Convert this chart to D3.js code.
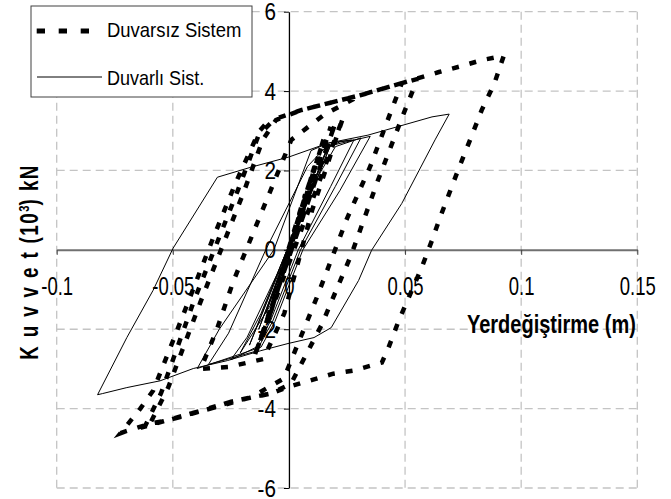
<!DOCTYPE html>
<html><head><meta charset="utf-8">
<script src="https://cdn.jsdelivr.net/npm/d3@7"></script>
<style>body{margin:0;background:#fff}svg{display:block}text{font-family:"Liberation Sans",Arial,sans-serif}</style>
</head><body><svg id="c" width="671" height="499"></svg>
<script>
const xTicks=[-0.1,-0.05,0,0.05,0.1,0.15];
const xTickLabels=["-0.1","-0.05","0","0.05","0.1","0.15"];
const yTicks=[-6,-4,-2,0,2,4,6];
const yTickLabels=["-6","-4","-2","0","2","4","6"];
const seriesNames=["Duvarsız Sistem","Duvarlı Sist."];
const xTitle="Yerdeğiştirme (m)";

// Duvarsız Sistem (dashed) : [displacement m, force 10^3 kN]
const duvarsiz=[
[0,0],
[0.007,1.4],[-0.006,-1.1],
[0.011,2.1],[-0.009,-1.8],
[0.015,2.8],[-0.012,-2.3],
[0.018,3.1],[-0.014,-2.55],
[0.020,3.2],[-0.015,-2.7],
[0.0234,3.35],[0.010,1.0],[-0.002,-1.6],[-0.011,-2.75],[-0.026,-2.95],[-0.038,-3.0],
[-0.031,-2.0],[-0.024,-0.8],[-0.010,1.2],[0.001,2.77],[0.015,3.4],
[0.031,3.9],[0.0486,4.2],
[0.0442,3.53],[0.035,2.1],[0.025,0.79],[0.012,-1.2],[-0.0022,-3.24],
[-0.0165,-3.72],[-0.0338,-4.0],[-0.0512,-4.28],[-0.060,-4.40],
[-0.052,-3.47],[-0.0382,-1.33],[-0.0195,1.45],[-0.0113,2.77],[-0.0056,3.27],
[0.0052,3.52],[0.031,3.9],[0.0486,4.2],[0.055,4.3],
[0.0538,4.08],[0.0486,3.32],[0.038,1.7],[0.027,-0.1],[0.014,-1.9],[0.0009,-3.37],
[-0.0078,-3.62],[-0.0252,-3.83],[-0.0425,-4.13],[-0.062,-4.45],
[-0.055,-3.6],[-0.041,-1.3],[-0.022,1.5],[-0.013,2.9],[-0.006,3.3],
[0.0052,3.52],[0.031,3.9],[0.0486,4.2],[0.0646,4.48],[0.0737,4.62],[0.083,4.78],[0.0925,4.89],
[0.0885,4.2],[0.083,3.52],[0.078,2.77],[0.0733,2.08],[0.069,1.42],[0.0646,0.74],[0.0616,0.24],[0.0572,-0.44],[0.0516,-1.2],[0.0473,-1.78],[0.0429,-2.46],[0.040,-2.84],
[0.0369,-2.89],[0.0278,-3.04],[0.0191,-3.12],[0.0104,-3.27],[0,-3.45],
[-0.0078,-3.62],[-0.0165,-3.72],[-0.0252,-3.83],[-0.0338,-4.0],[-0.0425,-4.13],[-0.0512,-4.28],[-0.0598,-4.38],[-0.0707,-4.58],[-0.0725,-4.62],
[-0.064,-4.0],[-0.0585,-3.55],[-0.0499,-2.29],[-0.0325,0.32],[-0.023,1.68],[-0.013,2.97],[-0.0078,3.32]
];

// Duvarlı Sist. (solid)
const duvarli=[
[0,0],
[0.005,0.8],[-0.004,-0.6],
[0.008,1.3],[-0.007,-1.1],
[0.011,1.8],[-0.010,-1.6],
[0.014,2.2],[-0.013,-2.0],
[0.016,2.5],[-0.017,-2.4],
[0.018,2.65],[0.006,0.9],[-0.008,-1.4],[-0.021,-2.6],
[-0.012,-1.6],[0.002,0.4],[0.017,2.6],[0.022,2.72],[0.028,2.77],
[0.018,1.6],[0.004,0.0],[-0.008,-1.8],[-0.014,-2.45],[-0.025,-2.77],
[-0.018,-2.2],[-0.005,-0.6],[0.012,1.8],[0.020,2.6],[0.031,2.82],
[0.020,1.6],[0.005,0.0],[-0.007,-1.8],[-0.014,-2.55],[-0.0347,-2.89],
[-0.026,-2.1],[-0.010,0.0],[0.008,2.1],[0.016,2.6],[0.035,2.86],
[0.022,1.5],[0.006,0.0],[-0.006,-1.8],[-0.012,-2.45],[-0.0395,-2.99],
[-0.030,-2.0],[-0.0065,0.0],[0.0095,2.5],[0.0169,2.69],[0.034,2.89],[0.0616,3.35],[0.069,3.42],
[0.0629,2.77],[0.0486,1.17],[0.0356,-0.01],[0.03,-0.77],[0.0182,-1.96],[0.0108,-2.21],[-0.0004,-2.36],
[-0.0121,-2.54],[-0.0265,-2.79],[-0.0412,-2.99],[-0.0555,-3.3],[-0.0698,-3.47],[-0.0802,-3.62],[-0.0824,-3.65],
[-0.0698,-2.21],[-0.0585,-1.02],[-0.0499,0.04],[-0.0308,1.83],[-0.0165,2.08],[0,2.34],[0.0169,2.69],[0.027,2.77]
];

const svg=d3.select("#c");
svg.append("rect").attr("width",671).attr("height",499).attr("fill","#fff");
const x=d3.scaleLinear().domain([-0.1,0.15]).range([56.7,637.3]);
const y=d3.scaleLinear().domain([-6,6]).range([488,11.7]);

// grid
const grid=svg.append("g").attr("stroke","#c4c4c4").attr("stroke-width",1.3).attr("stroke-dasharray","8,5");
grid.selectAll("line.gv").data(xTicks.filter(d=>d!==0)).join("line").attr("class","gv")
  .attr("x1",d=>x(d)).attr("x2",d=>x(d)).attr("y1",y(6)).attr("y2",y(-6));
grid.selectAll("line.gh").data(yTicks.filter(d=>d!==0)).join("line").attr("class","gh")
  .attr("y1",d=>y(d)).attr("y2",d=>y(d)).attr("x1",x(-0.1)).attr("x2",x(0.15));

// x axis
const xAxis=svg.append("g").attr("transform",`translate(0,${y(0)})`)
  .call(d3.axisBottom(x).tickValues(xTicks).tickFormat((d,i)=>xTickLabels[i]).tickSize(5).tickSizeOuter(0));
xAxis.attr("font-family",null).attr("font-size",null);
xAxis.select(".domain").attr("stroke","#707070").attr("stroke-width",2);
xAxis.selectAll(".tick line").attr("stroke","#404040");
xAxis.selectAll(".tick text").attr("y",0).attr("dy",0).attr("fill","#000")
  .style("font-size","25px").attr("transform","translate(0,45.5) scale(0.74,1)");

// y axis
const yAxis=svg.append("g").attr("transform",`translate(${x(0)},0)`)
  .call(d3.axisLeft(y).tickValues(yTicks).tickFormat((d,i)=>yTickLabels[i]).tickSize(5).tickSizeOuter(0));
yAxis.attr("font-family",null).attr("font-size",null);
yAxis.select(".domain").attr("stroke","#000").attr("stroke-width",1.3);
yAxis.selectAll(".tick line").attr("stroke","#000");
yAxis.selectAll(".tick text").attr("x",0).attr("dy",0).attr("fill","#000").attr("text-anchor","end")
  .style("font-size","23px").attr("transform","translate(-13,8) scale(0.9,1)");

// series
const line=d3.line().x(d=>x(d[0])).y(d=>y(d[1]));
svg.append("path").datum(duvarsiz).attr("d",line).attr("fill","none").attr("stroke","#000")
  .attr("stroke-width",4.5).attr("stroke-dasharray","7,11");
svg.append("path").datum(duvarli).attr("d",line).attr("fill","none").attr("stroke","#000").attr("stroke-width",1);

// axis titles
svg.append("text").attr("transform","translate(467,333) scale(0.8,1)")
  .style("font-size","25px").style("font-weight","bold").text(xTitle);
const yt=svg.append("text").attr("transform","translate(38,262) rotate(-90) scale(0.75,1)")
  .attr("text-anchor","middle").style("font-size","25px").style("font-weight","bold");
yt.append("tspan").attr("letter-spacing","12").text("Kuvvet");
yt.append("tspan").attr("letter-spacing","2").text("(10");
yt.append("tspan").attr("dy",-9).style("font-size","15px").text("3");
yt.append("tspan").attr("dy",9).attr("letter-spacing","2").text(") kN");

// legend
const lg=svg.append("g");
lg.append("rect").attr("x",31).attr("y",6).attr("width",221).attr("height",91)
  .attr("fill","#fff").attr("stroke","#404040").attr("stroke-width",1);
lg.append("line").attr("x1",36.7).attr("x2",102).attr("y1",31).attr("y2",31)
  .attr("stroke","#000").attr("stroke-width",5).attr("stroke-dasharray","8.3,13.7");
lg.append("line").attr("x1",37).attr("x2",102).attr("y1",77).attr("y2",77)
  .attr("stroke","#000").attr("stroke-width",1);
lg.append("text").attr("transform","translate(107,37.3) scale(0.9,1)").style("font-size","20.5px").text(seriesNames[0]);
lg.append("text").attr("transform","translate(107,85) scale(0.88,1)").style("font-size","20.5px").text(seriesNames[1]);
</script></body></html>
